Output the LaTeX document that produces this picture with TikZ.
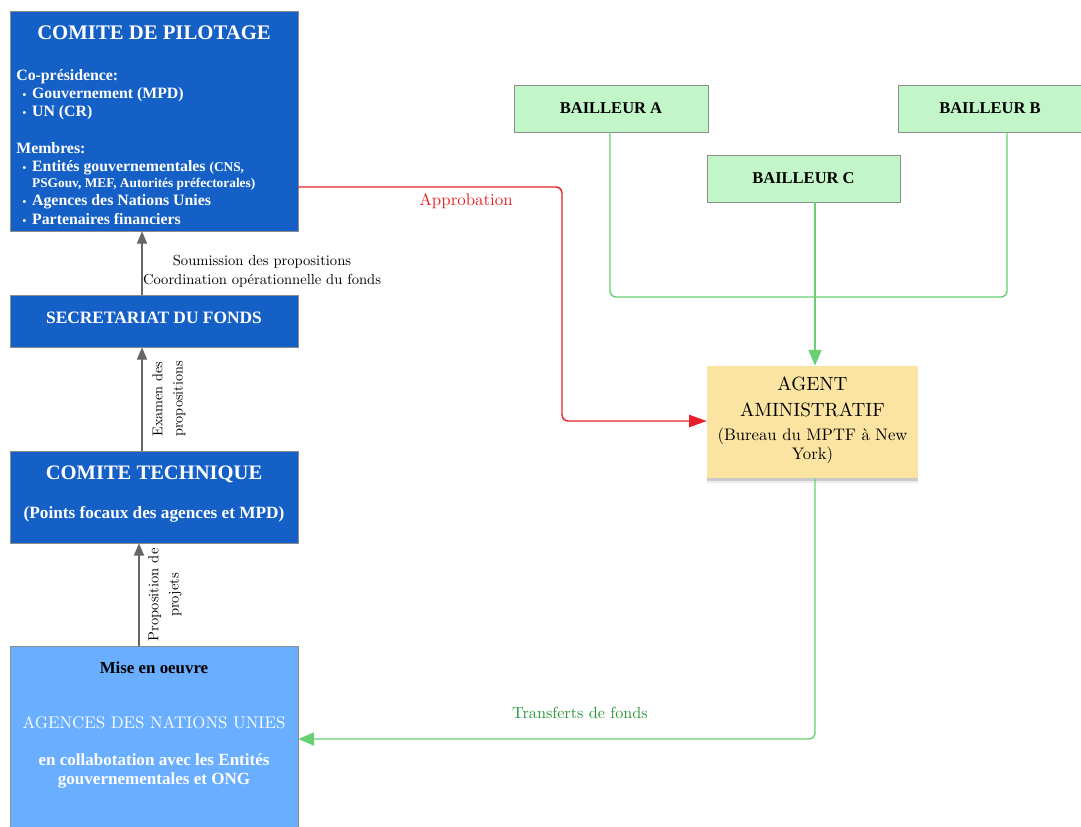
\documentclass[tikz,border=0pt]{standalone}
\usepackage{fontspec}
\setmainfont{lmroman10-regular.otf}[BoldFont=lmroman10-bold.otf, ItalicFont=lmroman10-italic.otf]
\newfontfamily\lsb{Liberation Serif}
\usetikzlibrary{arrows.meta,shadows}
\definecolor{pilblue}{RGB}{21,96,198}
\definecolor{miseblue}{RGB}{106,174,255}
\definecolor{bailgreen}{RGB}{194,245,200}
\definecolor{agentyellow}{RGB}{251,227,162}
\definecolor{linegreen}{RGB}{104,208,114}
\definecolor{txtgreen}{RGB}{40,150,55}
\definecolor{linered}{RGB}{232,32,42}
\def\fs#1#2{\fontsize{#1}{#2}\selectfont}
\def\bft{\lsb\bfseries}
\def\itm{\hspace*{3.5pt}\makebox[5.5pt][l]{\fs{6}{7}\textbullet}}
\tikzset{
	bluebox/.style={draw=black!45, fill=pilblue, minimum width=5.76cm, inner sep=0pt},
	misebox/.style={draw=black!45, fill=miseblue, minimum width=5.76cm, inner sep=0pt},
	bailbox/.style={draw=black!45, fill=bailgreen, minimum height=0.94cm, inner sep=0pt, font=\fs{9.4}{11}\bft},
	agentbox/.style={fill=agentyellow, minimum width=4.22cm, minimum height=2.24cm, inner sep=0pt, align=center,
		drop shadow={shadow xshift=0pt, shadow yshift=-3pt, opacity=0.08, fill=black},
		drop shadow={shadow xshift=0pt, shadow yshift=-1.5pt, opacity=0.14, fill=black}},
	whitetxt/.style={text=white, font=\bft, inner sep=0pt, align=center},
	grayline/.style={draw=black!55, line width=0.7pt, -{Triangle[length=7pt,width=5.8pt]}, color=black!60},
	redline/.style={draw=linered, line width=0.8pt, rounded corners=3.5pt, -{Triangle[length=10pt,width=7pt]}},
	greenline/.style={draw=linegreen, line width=0.8pt, rounded corners=3.5pt},
	greenarrow/.style={greenline, -{Triangle[length=9pt,width=7.5pt]}},
	lbl/.style={inner sep=0pt, align=center, font=\fs{8.3}{10.6}}
}

\begin{document}
\begin{tikzpicture}[x=0.02cm, y=-0.02cm]
	%%%%% START %%%%%
	\useasboundingbox (0,0) rectangle (1081,826);
	
	% left column
	\node[bluebox, minimum height=4.4cm] (pil) at (154,121) {};
	\node[whitetxt, font=\fs{11.8}{13}\bft] (piltitle) at (154,33) {COMITE DE PILOTAGE};
	\node[whitetxt, anchor=north west, align=left, font=\fs{9}{10.4}\bft] (pilbody) at (16,69)
		{Co-présidence:\\
		\itm Gouvernement (MPD)\\
		\itm UN (CR)\\[10.4pt]
		Membres:\\
		\itm Entités gouvernementales {\fs{7.6}{9}(CNS,}\\[-1.4pt]
		\hspace*{9pt}{\fs{7.6}{9}PSGouv, MEF, Autorités préfectorales)}\\
		\itm Agences des Nations Unies\\
		\itm Partenaires financiers};
	
	\node[bluebox, minimum height=1.04cm] (sec) at (154,321) {};
	\node[whitetxt, font=\fs{9.9}{11}\bft] (sectxt) at (154,318) {SECRETARIAT DU FONDS};
	
	\node[bluebox, minimum height=1.84cm] (tec) at (154,497) {};
	\node[whitetxt, font=\fs{11.7}{13}\bft] (tectitle) at (154,474) {COMITE TECHNIQUE};
	\node[whitetxt, font=\fs{9.8}{11}\bft] (tecsub) at (154,514) {(Points focaux des agences et MPD)};
	
	\node[misebox, minimum height=3.76cm] (mise) at (154,740) {};
	\node[inner sep=0pt, font=\fs{9.6}{11}\bft] (misetitle) at (154,668) {Mise en oeuvre};
	\node[whitetxt, font=\fs{9.6}{12}] (miseag) at (154,723) {AGENCES DES NATIONS UNIES};
	\node[whitetxt, font=\fs{9.7}{10.4}\bft] (misesub) at (154,771) {en collabotation avec les Entités\\gouvernementales et ONG};
	
	% right side
	\node[bailbox, minimum width=3.88cm] (bA) at (611,108.5) {BAILLEUR A};
	\node[bailbox, minimum width=3.68cm] (bB) at (990,108.5) {BAILLEUR B};
	\node[bailbox, minimum width=3.86cm] (bC) at (803.5,178.5) {BAILLEUR C};
	
	\node[agentbox] (agent) at (812.5,422) {};
	\node[lbl, font=\fs{10.9}{14.8}] (agtitle) at (812.5,397) {AGENT\\AMINISTRATIF};
	\node[lbl, font=\fs{9.5}{10.8}] (agsub) at (812.5,446) {(Bureau du MPTF à New\\York)};
	
	% vertical arrows
	\coordinate (ax) at (142,0);
	\coordinate (bx) at (139,0);
	\draw[grayline] (sec.north -| ax) -- (pil.south -| ax);
	\draw[grayline] (tec.north -| ax) -- (sec.south -| ax);
	\draw[grayline] (mise.north -| bx) -- (tec.south -| bx);
	
	\node[lbl] (soum) at (262,271) {Soumission des propositions\\Coordination opérationnelle du fonds};
	\node[lbl, rotate=90, font=\fs{8.1}{11.5}] (exam) at (169,399) {Examen des\\propositions};
	\node[lbl, rotate=90, font=\fs{8.3}{11.5}] (prop) at (165,595) {Proposition de\\projets};
	
	% approbation
	\draw[redline] (pil.east |- 0,187) -- (562,187) -- (562,421) -- (agent.west |- 0,421);
	\node[lbl, text=linered, font=\fs{9.6}{12}] (appro) at (466,201) {Approbation};
	
	% bailleurs
	\coordinate (gx) at (815,0);
	\coordinate (bbx) at (1007,0);
	\draw[greenline] (bA.south -| 610,0) -- (610,297) -- (1007,297) -- (bB.south -| bbx);
	\draw[greenarrow] (bC.south -| gx) -- (agent.north -| gx);
	
	% transferts
	\draw[greenarrow] (agent.south -| gx) -- (815,739) -- (mise.east |- 0,739);
	\node[lbl, text=txtgreen, font=\fs{9.2}{12}] (transf) at (580,713) {Transferts de fonds};
	%%%%% END %%%%%
\end{tikzpicture}
\end{document}
